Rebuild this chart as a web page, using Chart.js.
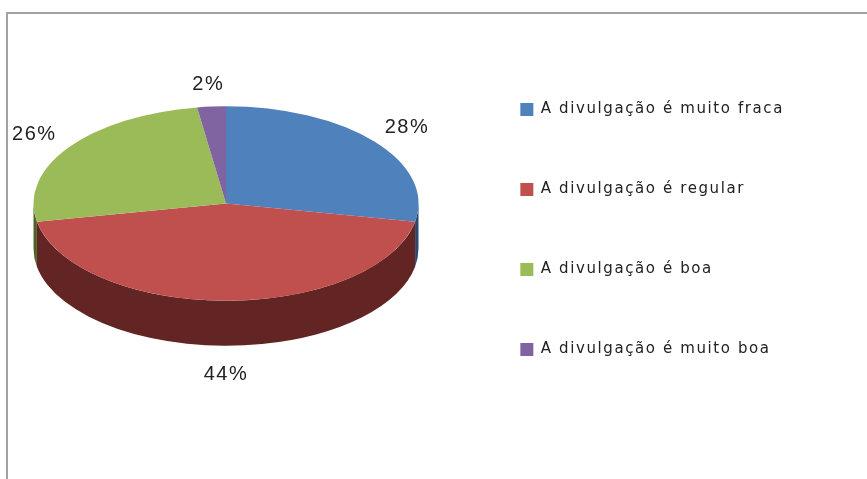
<!DOCTYPE html>
<html>
<head>
<meta charset="utf-8">
<style>
  html, body { margin: 0; padding: 0; background: #fff; overflow: hidden; }
  #marco { position: absolute; left: 6px; top: 12px; width: 870px; height: 480px; border-left: 2px solid #a3a3a3; border-top: 2px solid #a3a3a3; }
  canvas { position: absolute; left: 0; top: 0; }
</style>
</head>
<body>
<div id="marco"></div>
<canvas id="grafica" width="867" height="479"></canvas>
<script src="https://cdn.jsdelivr.net/npm/chart.js@4"></script>
<script>
const categorias = [
  "A divulgação é muito fraca",
  "A divulgação é regular",
  "A divulgação é boa",
  "A divulgação é muito boa",
];
const valores = [28, 44, 25.6, 2.4];
const colores = ["#4f81bd", "#c0504d", "#9bbb59", "#8064a2"];
const coloresLado = ["#2a4a72", "#632523", "#4f6228", "#4c3a63"];

// geometría del pastel "3D"
const centroX = 226;
const centroY = 203.5;
const radio = 192.5;
const aplastado = 0.505;
const profundidad = 45;

// aplasta el pastel y dibuja primero el costado oscuro
const pastel3d = {
  id: "pastel3d",
  beforeLayout(chart) {
    chart.ctx.letterSpacing = "1.6px";
  },
  beforeDatasetDraw(chart, args) {
    const ctx = chart.ctx;
    const arcos = args.meta.data;
    const cx = arcos[0].x;
    const cy = arcos[0].y;

    // solo la mitad de abajo se ve, el costado va de 0 a PI
    arcos.forEach((arco, i) => {
      const p = arco.getProps(["startAngle", "endAngle", "outerRadius"], true);
      const desde = Math.max(p.startAngle, 0);
      const hasta = Math.min(p.endAngle, Math.PI);
      if (hasta <= desde) return;
      const rx = p.outerRadius;
      const ry = p.outerRadius * aplastado;
      ctx.save();
      ctx.translate(centroX, centroY);
      ctx.fillStyle = coloresLado[i];
      ctx.beginPath();
      ctx.ellipse(0, 0, rx, ry, 0, desde, hasta);
      ctx.ellipse(0, profundidad, rx, ry, 0, hasta, desde, true);
      ctx.closePath();
      ctx.fill();
      ctx.restore();
    });

    ctx.save();
    ctx.translate(centroX, centroY);
    ctx.scale(1, aplastado);
    ctx.translate(-cx, -cy);
  },
  afterDatasetDraw(chart) {
    chart.ctx.restore();
  },
  afterDatasetsDraw(chart) {
    const ctx = chart.ctx;
    const arcos = chart.getDatasetMeta(0).data;
    ctx.save();
    ctx.font = '20px "Liberation Sans"';
    ctx.letterSpacing = "1.5px";
    ctx.fillStyle = "#222";
    ctx.textAlign = "center";
    ctx.textBaseline = "middle";
    arcos.forEach((arco, i) => {
      const p = arco.getProps(["startAngle", "endAngle", "outerRadius"], true);
      const medio = (p.startAngle + p.endAngle) / 2;
      const x = centroX + Math.cos(medio) * p.outerRadius * 1.22;
      let y = centroY + Math.sin(medio) * p.outerRadius * aplastado * 1.23;
      if (Math.sin(medio) > 0.5) y += profundidad + 6;
      ctx.fillText(Math.round(valores[i]) + "%", x, y);
    });
    ctx.restore();
  },
};

new Chart(document.getElementById("grafica"), {
  type: "pie",
  plugins: [pastel3d],
  data: {
    labels: categorias,
    datasets: [
      {
        data: valores,
        backgroundColor: colores,
        borderWidth: 0,
        radius: radio,
        clip: false,
      },
    ],
  },
  options: {
    responsive: false,
    animation: false,
    layout: { padding: { top: 37, right: 73, bottom: 10, left: 0 } },
    plugins: {
      tooltip: { enabled: false },
      legend: {
        position: "right",
        align: "start",
        labels: {
          boxWidth: 13,
          boxHeight: 13,
          padding: 65,
          color: "#222",
          font: { family: '"DejaVu Sans"', size: 15 },
        },
      },
    },
  },
});
</script>
</body>
</html>
